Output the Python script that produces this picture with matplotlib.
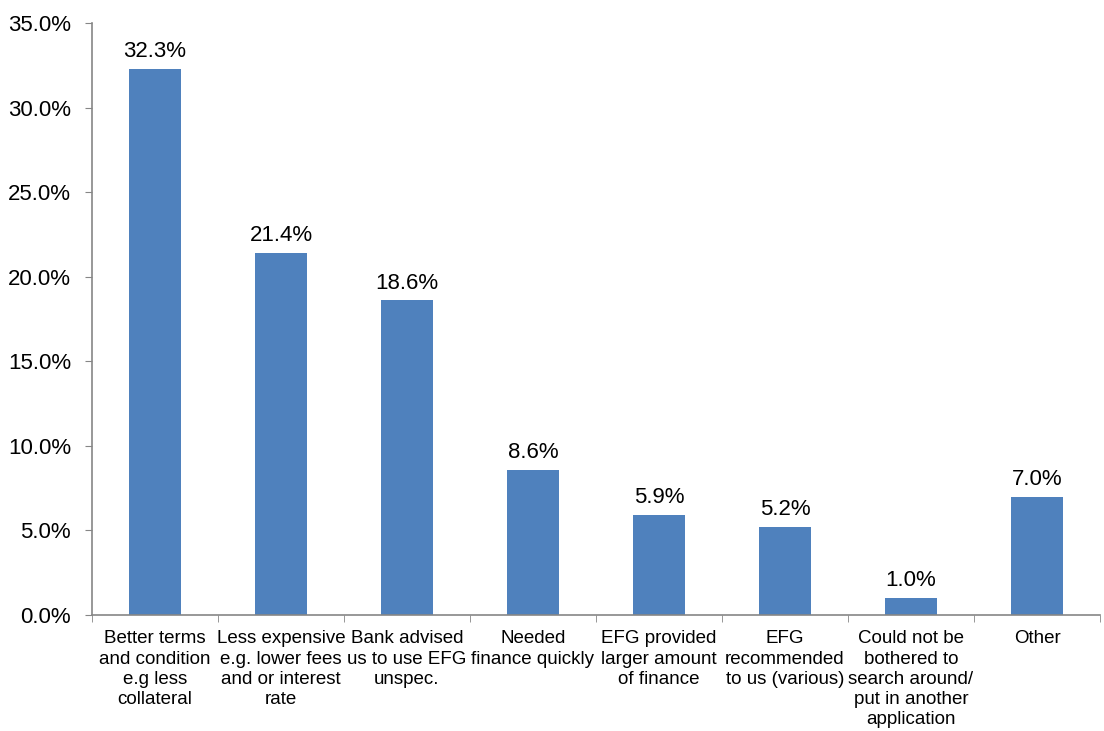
import matplotlib
matplotlib.use('Agg')
from matplotlib import pyplot as plt
import numpy as np

categories = ['Better terms\nand condition\ne.g less\ncollateral',
              'Less expensive\ne.g. lower fees\nand or interest\nrate',
              'Bank advised\nus to use EFG\nunspec.',
              'Needed\nfinance quickly',
              'EFG provided\nlarger amount\nof finance',
              'EFG\nrecommended\nto us (various)',
              'Could not be\nbothered to\nsearch around/\nput in another\napplication',
              'Other']
values = [32.3, 21.4, 18.6, 8.6, 5.9, 5.2, 1.0, 7.0]

plt.rcParams['font.family'] = ['Liberation Sans', 'DejaVu Sans']
grey = '#868686'

fig = plt.figure(figsize=(11.04, 7.31), dpi=100)
ax = fig.add_axes([0.0833, 0.1587, 0.9131, 0.8098])

x = np.arange(len(values))
bars = ax.bar(x, values, width=0.41, color='#4F81BD')
for xi, v in zip(x, values):
    ax.text(xi, v + 0.4, '%.1f%%' % v, ha='center', va='bottom', fontsize=16)

ax.set_xlim(-0.5, len(values) - 0.5)
ax.set_ylim(0, 35)
ax.set_yticks(np.arange(0, 36, 5))
ax.set_yticklabels(['%.1f%%' % t for t in np.arange(0, 36, 5)], fontsize=16)
ax.set_xticks(x)
ax.set_xticklabels(categories, fontsize=13.5, linespacing=1.25)
ax.set_xticks(np.arange(-0.5, len(values), 1), minor=True)
ax.tick_params(axis='x', which='major', length=0, pad=11)
ax.tick_params(axis='x', which='minor', length=5, color=grey, direction='out')
ax.tick_params(axis='y', length=5, color=grey, direction='out', pad=10)

for s in ['top', 'right']:
    ax.spines[s].set_visible(False)
for s in ['left', 'bottom']:
    ax.spines[s].set_color(grey)
    ax.spines[s].set_linewidth(1.2)

fig.savefig('out.png', dpi=100)
